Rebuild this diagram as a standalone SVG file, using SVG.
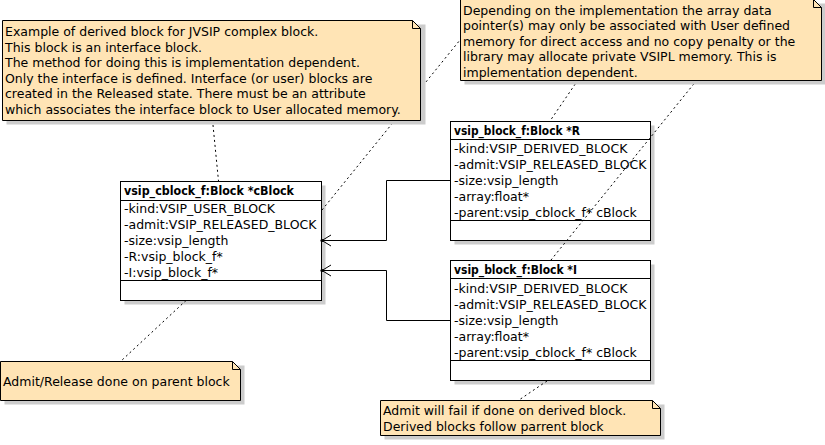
<svg xmlns="http://www.w3.org/2000/svg" width="825" height="445" viewBox="0 0 825 445">
<style>
text{font-family:"DejaVu Sans","Liberation Sans",sans-serif;font-size:12.5px;fill:#000}
.hd{font-weight:bold}
.box{fill:#fff;stroke:#000;stroke-width:1}
.shadow{fill:#cccccc}
.note{fill:#ffe4b5;stroke:#000;stroke-width:1}
.sep{stroke:#000;stroke-width:1;fill:none}
.dash{stroke:#000;stroke-width:1;fill:none;stroke-dasharray:2,3}
.conn{stroke:#000;stroke-width:1;fill:none}
</style>
<rect width="825" height="445" fill="#fff"/>

<g id="cBlock">
<rect class="shadow" x="124.5" y="185.5" width="201" height="119"/>
<rect class="box" x="120.5" y="181.5" width="201" height="119"/>
<path class="sep" d="M120.5 200.5H321.5M120.5 280.5H321.5"/>
<text class="hd" x="124" y="195" textLength="170" lengthAdjust="spacingAndGlyphs">vsip_cblock_f:Block *cBlock</text>
<text x="124" y="212.5">-kind:VSIP_USER_BLOCK</text>
<text x="124" y="228.5">-admit:VSIP_RELEASED_BLOCK</text>
<text x="124" y="244.5">-size:vsip_length</text>
<text x="124" y="260.5">-R:vsip_block_f*</text>
<text x="124" y="276.5">-I:vsip_block_f*</text>
</g>

<g id="blockR">
<rect class="shadow" x="454.5" y="125.5" width="200" height="119"/>
<rect class="box" x="450.5" y="121.5" width="200" height="119"/>
<path class="sep" d="M450.5 139.5H650.5M450.5 220.5H650.5"/>
<text class="hd" x="454" y="135" textLength="126" lengthAdjust="spacingAndGlyphs">vsip_block_f:Block *R</text>
<text x="454" y="152.5">-kind:VSIP_DERIVED_BLOCK</text>
<text x="454" y="168.5">-admit:VSIP_RELEASED_BLOCK</text>
<text x="454" y="184.5">-size:vsip_length</text>
<text x="454" y="200.5">-array:float*</text>
<text x="454" y="216.5">-parent:vsip_cblock_f* cBlock</text>
</g>

<g id="blockI">
<rect class="shadow" x="454.5" y="264.5" width="200" height="120"/>
<rect class="box" x="450.5" y="260.5" width="200" height="120"/>
<path class="sep" d="M450.5 278.5H650.5M450.5 360.5H650.5"/>
<text class="hd" x="454" y="274" textLength="123" lengthAdjust="spacingAndGlyphs">vsip_block_f:Block *I</text>
<text x="454" y="292.5">-kind:VSIP_DERIVED_BLOCK</text>
<text x="454" y="308.5">-admit:VSIP_RELEASED_BLOCK</text>
<text x="454" y="324.5">-size:vsip_length</text>
<text x="454" y="340.5">-array:float*</text>
<text x="454" y="356.5">-parent:vsip_cblock_f* cBlock</text>
</g>

<g id="connectors">
<path class="conn" d="M321.5 240.5H386.5V180.5H450.5"/>
<path class="conn" d="M331 235L322 240.5L331 246"/>
<circle cx="322" cy="240.5" r="1.6" fill="#000"/>
<path class="conn" d="M321.5 270.5H386.5V320.5H450.5"/>
<path class="conn" d="M331 265L322 270.5L331 276"/>
<circle cx="322" cy="270.5" r="1.6" fill="#000"/>
<path class="dash" d="M212.5 120L218.5 181"/>
<path class="dash" d="M322 210L460 40"/>
<path class="dash" d="M578 80L550 121"/>
<path class="dash" d="M697 80L551 260"/>
<path class="dash" d="M186 300.5L121 361"/>
<path class="dash" d="M547 381L519 400"/>
</g>

<g id="note1">
<rect class="shadow" x="6.5" y="24.5" width="419" height="100"/>
<path class="note" d="M2.5 20.5H412.5L420.5 28.5V120.5H2.5Z"/>
<path class="sep" d="M412.5 20.5V28.5H420.5"/>
<text x="5" y="36">Example of derived block for JVSIP complex block.</text>
<text x="5" y="51.6">This block is an interface block.</text>
<text x="5" y="67.2">The method for doing this is implementation dependent.</text>
<text x="5" y="82.8">Only the interface is defined. Interface (or user) blocks are</text>
<text x="5" y="98.4">created in the Released state. There must be an attribute</text>
<text x="5" y="114">which associates the interface block to User allocated memory.</text>
</g>

<g id="note2">
<rect class="shadow" x="464.5" y="3.5" width="361" height="81"/>
<path class="note" d="M460.5 -0.5H813.5L821.5 7.5V80.5H460.5Z"/>
<path class="sep" d="M813.5 -0.5V7.5H821.5"/>
<text x="463" y="14.5">Depending on the implementation the array data</text>
<text x="463" y="30">pointer(s) may only be associated with User defined</text>
<text x="463" y="45.5">memory for direct access and no copy penalty or the</text>
<text x="463" y="61">library may allocate private VSIPL memory. This is</text>
<text x="463" y="76.5">implementation dependent.</text>
</g>

<g id="note3">
<rect class="shadow" x="4.5" y="365.5" width="240" height="39"/>
<path class="note" d="M0.5 361.5H232.5L240.5 369.5V400.5H0.5Z"/>
<path class="sep" d="M232.5 361.5V369.5H240.5"/>
<text x="3" y="385.5">Admit/Release done on parent block</text>
</g>

<g id="note4">
<rect class="shadow" x="384.5" y="404.5" width="280" height="35"/>
<path class="note" d="M380.5 400.5H652.5L660.5 408.5V435.5H380.5Z"/>
<path class="sep" d="M652.5 400.5V408.5H660.5"/>
<text x="383" y="415">Admit will fail if done on derived block.</text>
<text x="383" y="430.5">Derived blocks follow parrent block</text>
</g>
</svg>
